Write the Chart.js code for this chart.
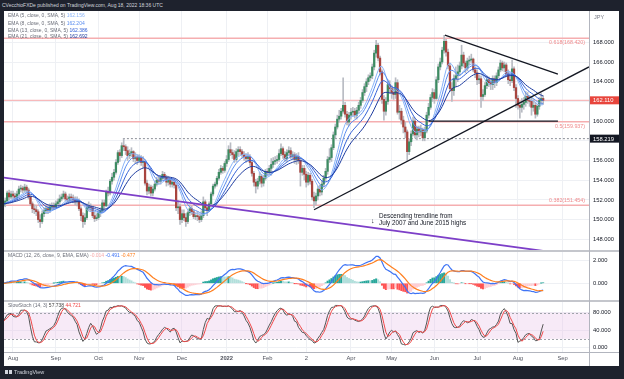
<!DOCTYPE html>
<html><head><meta charset="utf-8">
<script src="https://cdn.jsdelivr.net/npm/chart.js@4.4.1/dist/chart.umd.min.js"></script>
<style>
*{box-sizing:border-box}
html,body{margin:0;padding:0}
body{width:624px;height:379px;background:#1e222d;position:relative;overflow:hidden;font-family:"Liberation Sans",Arial,sans-serif}
#panel{position:absolute;left:4px;top:11px;width:615px;height:355px;background:#fff}
canvas{position:absolute;left:4px}
.t{position:absolute;white-space:nowrap;line-height:1}
.leg{left:8px;font-size:5px;color:#6a6d78}
.ln{position:absolute}
</style></head><body>
<div id="panel"></div>
<canvas id="cPrice" width="615" height="239" style="top:11px"></canvas>
<canvas id="cMacd" width="615" height="48" style="top:252px"></canvas>
<canvas id="cStoch" width="615" height="62" style="top:302px"></canvas>
<div class="ln" style="left:4px;top:250px;width:615px;height:2px;background:#c4c6cc"></div>
<div class="ln" style="left:4px;top:300px;width:615px;height:2px;background:#c4c6cc"></div>
<div class="ln" style="left:589px;top:11px;width:1px;height:355px;background:#b2b5be"></div>
<div class="ln" style="left:4px;top:352px;width:615px;height:1px;background:#b2b5be"></div>

<div class="t" style="left:2px;top:2.5px;font-size:5px;color:#d1d4dc">CVecchioFXDe published on TradingView.com, Aug 18, 2022 18:36 UTC</div>
<div class="t leg" style="top:13.2px">EMA (5, close, 0, SMA, 5) <span style="color:#8ab4f8">162.156</span></div>
<div class="t leg" style="top:20.5px">EMA (8, close, 0, SMA, 5) <span style="color:#5b8def">162.204</span></div>
<div class="t leg" style="top:27.5px">EMA (13, close, 0, SMA, 5) <span style="color:#3562d6">162.386</span></div>
<div class="t leg" style="top:34.2px">EMA (21, close, 0, SMA, 5) <span style="color:#1c3a9e">162.692</span></div>
<div class="t" style="left:594px;top:14.5px;font-size:5.5px;color:#787b86">JPY</div>
<div class="t leg" style="top:253.2px">MACD (12, 26, close, 9, EMA, EMA) <span style="color:#f7a9a9">-0.014</span> <span style="color:#3f74f5">-0.491</span> <span style="color:#ff7f1f">-0.477</span></div>
<div class="t leg" style="top:303.2px">SlowStoch (14, 3) <span style="color:#444">57.738</span> <span style="color:#f04848">44.721</span></div>
<div class="t" style="left:371px;top:216.5px;font-size:7px;color:#131722">↓</div>
<div class="t" style="left:379px;top:211.8px;font-size:6.3px;line-height:7px;color:#131722">Descending trendline from<br>July 2007 and June 2015 highs</div>
<div class="ln" style="left:5px;top:370px;width:3px;height:4px;background:#d1d4dc"></div>
<div class="ln" style="left:9px;top:370px;width:3px;height:4px;background:#d1d4dc"></div>
<div class="t" style="left:14px;top:369.5px;font-size:5.5px;color:#d1d4dc">TradingView</div>

<script>
// ---------- DATA (daily GBP/JPY candles, Jul 26 2021 .. Aug 18 2022) ----------
const FIRST_OPEN = 151.4;
const closes = [
151.6,151.9,152.7,152.3,152.6, 152.4,152.2,152.6,153.1,153.2, 153.0,153.3,153.0,152.3,151.6,
151.1,151.0,150.8,150.0,149.8, 150.6,150.9,151.1,150.9,151.3, 151.4,151.3,151.6,151.8,152.1,
152.3,152.6,152.1,152.0,152.3, 152.2,152.0,151.8,151.9,151.1, 150.4,149.8,150.2,151.2,151.3,
151.2,150.4,150.1,150.2,150.7, 150.9,151.7,151.4,152.8,152.7, 153.9,154.3,154.8,155.8,156.8,
156.5,157.5,157.4,157.0,156.5, 156.7,156.9,156.2,156.3,156.0, 156.3,155.8,155.9,153.7,152.9,
153.3,152.7,153.1,153.6,154.0, 153.9,154.2,154.6,154.3,153.8, 154.0,153.6,153.8,153.5,151.2,
151.3,150.0,150.6,150.2,149.8, 150.7,151.1,150.8,150.3,150.4, 150.3,150.0,150.4,151.8,151.2,
150.9,151.6,152.6,153.4,153.6, 154.2,154.8,155.2,155.0,155.7, 156.1,157.1,156.8,156.6,156.1,
156.9,157.1,156.9,156.6,156.4, 156.2,156.4,155.8,154.7,153.8, 153.4,153.9,154.4,153.7,154.2,
154.9,154.8,155.2,155.6,155.9, 156.0,156.1,156.7,157.2,156.6, 156.2,156.8,157.0,156.4,156.6,
156.1,156.4,156.0,154.8,155.2, 154.6,153.8,154.5,153.9,152.3, 151.9,152.4,153.1,152.8,153.6,
154.2,154.9,156.1,156.3,157.3, 158.6,159.4,160.2,160.5,161.0, 161.6,160.7,159.9,160.6,160.9,
161.0,160.6,161.1,161.6,162.1, 162.9,163.5,164.0,164.4,164.6, 165.5,166.9,167.7,166.4,165.0,
162.2,161.0,162.0,163.7,163.3, 162.9,162.7,163.9,160.9,161.0, 160.1,159.4,158.9,156.9,157.9,
158.7,160.0,158.6,159.2,158.9, 159.1,158.3,159.0,160.6,161.4, 162.4,162.9,162.3,164.2,165.5,
166.0,167.2,168.1,167.0,165.6, 163.3,163.1,164.3,164.6,165.0, 165.6,166.7,165.9,165.4,166.1,
166.2,166.3,165.2,164.9,164.2, 164.3,162.5,162.7,163.6,164.2, 163.9,163.7,164.3,163.9,164.6,
165.2,165.9,165.4,165.7,164.8, 164.2,164.1,165.3,163.4,162.3, 161.6,161.4,161.7,161.9,162.5,
162.1,162.0,161.4,161.6,160.7, 161.5,162.1,162.3,162.11];
const highs = [
152.0,152.2,152.9,153.0,152.9, 152.9,152.7,152.9,153.4,153.5, 153.4,153.6,153.5,153.2,152.5,
151.8,151.5,151.4,151.0,150.5, 150.9,151.2,151.4,151.4,151.6, 151.7,151.7,151.9,152.1,152.5,
152.6,152.9,152.8,152.4,152.6, 152.6,152.5,152.3,152.3,152.1, 151.3,150.7,150.6,151.6,151.8,
151.6,151.4,150.8,150.6,151.0, 151.2,152.0,152.0,153.0,153.3, 154.1,154.7,155.1,156.1,157.0,
157.1,157.8,158.2,157.6,157.4, 157.1,157.3,157.0,156.8,156.6, 156.6,156.5,156.4,156.1,154.0,
153.6,153.5,153.4,153.9,154.3, 154.3,154.5,154.9,154.8,154.5, 154.4,154.2,154.1,154.0,153.6,
151.9,151.6,151.0,151.0,150.6, 150.9,151.5,151.4,151.0,150.7, 150.8,150.6,150.9,152.3,152.0,
151.4,151.8,152.8,153.6,153.8, 154.4,155.1,155.5,155.4,155.9, 156.5,157.5,157.8,157.1,157.0,
157.2,157.4,157.4,157.1,156.9, 156.7,156.8,156.6,156.0,154.9, 154.1,154.2,154.8,154.6,154.5,
155.1,155.2,155.5,156.2,156.3, 156.4,156.5,157.1,157.7,157.4, 156.9,157.1,157.4,157.3,156.9,
156.8,156.7,156.8,156.3,155.5, 155.5,154.9,154.8,154.7,154.1, 152.8,152.7,153.4,153.5,153.9,
154.5,155.2,156.4,157.2,157.6, 158.9,159.7,160.6,161.1,161.3, 164.4,161.9,161.0,160.9,161.3,
161.4,161.3,161.4,161.9,162.4, 163.2,163.8,164.3,164.7,164.9, 165.8,167.2,168.2,167.9,166.6,
165.2,162.6,162.4,164.2,164.1, 163.6,163.3,164.4,164.2,161.6, 161.3,160.5,159.9,159.1,158.2,
159.0,160.4,160.3,159.5,159.5, 159.6,159.3,159.4,160.9,161.8, 162.7,163.3,163.2,164.5,165.8,
166.4,167.5,168.7,168.3,167.3, 165.9,163.9,164.7,165.5,165.7, 166.0,167.7,167.0,166.1,166.4,
166.6,166.8,166.4,165.5,165.2, 164.7,164.6,163.2,163.9,164.6, 164.5,164.3,164.6,164.6,164.9,
165.5,166.2,166.1,166.0,165.9, 165.2,164.7,166.2,165.5,163.7, 162.6,162.0,162.3,162.4,163.0,
162.9,162.6,162.5,162.2,161.9, 161.7,162.4,162.8,162.6];
const lows = [
151.0,151.3,151.7,152.0,152.1, 152.1,151.9,152.0,152.4,152.8, 152.7,152.8,152.7,152.1,151.4,
150.7,150.6,150.4,149.7,149.2, 149.6,150.3,150.6,150.6,150.7, 151.0,151.0,151.1,151.4,151.5,
151.9,152.1,151.9,151.7,151.8, 151.9,151.7,151.5,151.4,150.9, 149.9,149.2,149.5,150.0,150.9,
150.8,150.2,149.8,149.9,150.0, 150.3,150.7,151.0,151.3,152.4, 152.5,153.6,154.0,154.6,155.6,
155.9,156.3,157.0,156.6,156.0, 156.2,156.4,155.9,155.7,155.6, 155.8,155.5,155.3,153.5,152.5,
152.6,152.4,152.4,152.9,153.4, 153.6,153.6,154.0,154.0,153.4, 153.5,153.3,153.3,153.2,150.9,
150.6,149.5,149.7,149.9,149.3, 149.6,150.4,150.5,150.1,150.0, 149.9,149.7,149.8,150.2,150.9,
150.4,150.8,151.5,152.4,153.2, 153.4,154.0,154.6,154.7,154.8, 155.4,155.9,156.5,156.2,155.8,
155.9,156.5,156.6,156.3,156.0, 155.8,155.9,155.5,154.4,153.4, 152.7,153.1,153.6,153.3,153.4,
154.0,154.5,154.6,154.5,155.3, 155.6,155.7,155.9,156.5,156.2, 155.9,155.9,156.5,156.2,156.1,
155.7,155.6,155.7,153.4,154.5, 154.0,153.3,153.5,153.6,152.0, 151.2,151.5,152.0,152.4,152.5,
153.3,153.9,154.6,155.8,155.9, 157.1,158.3,159.2,159.9,160.2, 160.8,160.4,159.6,159.5,160.2,
160.5,160.3,160.2,160.8,161.3, 161.9,162.6,163.0,163.7,164.1, 164.3,165.2,166.5,166.1,164.7,
161.8,160.1,160.6,161.7,162.8, 162.3,162.2,162.3,160.7,160.2, 159.7,158.8,158.3,156.0,156.6,
157.5,158.5,158.3,158.1,158.4, 158.5,158.0,158.0,158.8,160.3, 161.2,162.0,161.8,162.2,163.9,
165.2,165.8,166.9,166.6,165.3, 163.0,162.0,162.6,163.5,164.0, 164.6,165.3,165.5,164.9,165.1,
165.7,165.9,165.0,164.4,163.7, 163.8,161.4,162.1,162.5,163.3, 163.5,163.2,163.2,163.4,163.6,
164.4,165.0,165.1,165.0,164.5, 163.8,163.6,163.9,163.1,161.4, 161.2,160.3,160.9,161.2,161.5,
161.8,161.5,160.6,161.0,160.3, 160.5,161.2,161.7,161.7];

// x axis: trading-day index; month labels at first trading day of each month
const monthIdx = [5,27,49,70,92,115,136,156,179,200,222,244,265,288];
const monthLbl = ['Aug','Sep','Oct','Nov','Dec','2022','Feb','2','Apr','May','Jun','Jul','Aug','Sep'];
const priceTicks = [148,150,152,154,156,158,160,162,164,166,168];
const macdTicks = [0,2];
const stochTicks = [0,40,80];

// horizontal levels & drawn lines
const fibLevels = [168.420, 159.937, 151.454];
const fibNames = ['0.618','0.5','0.382'];
const lastPrice = 162.110;
const octHigh = 158.219, octHighIdx = 61.6;
const trendUp = [[160,151.0],[301.6,165.5]];
const trendDown = [[227.4,168.74],[285.6,164.78]];
const supportLine = [[219,160.0],[285.6,160.0]];
const purpleLine = [[0,154.27],[290,146.50]];
const emaLens = [5,8,13,21];
const stochBands = [80,20];

// ---------- derived series (indicators) ----------
const opens = closes.map((c,i)=> i===0 ? FIRST_OPEN : closes[i-1]);
function ema(src,n){const a=2/(n+1);let e=src[0];return src.map((v,i)=>(e = i ? a*v+(1-a)*e : v));}
function sma(src,n){return src.map((v,i)=>{let s=0,k=0;for(let j=Math.max(0,i-n+1);j<=i;j++){s+=src[j];k++;}return s/k;});}
const emaSeries = emaLens.map(n=>sma(ema(closes,n),5));
const e12 = ema(closes,12), e26 = ema(closes,26);
const macd = e12.map((v,i)=>v-e26[i]);
const signal = ema(macd,9);
const hist = macd.map((v,i)=>v-signal[i]);
const rawK = closes.map((c,i)=>{let hh=-Infinity,ll=Infinity;for(let j=Math.max(0,i-13);j<=i;j++){hh=Math.max(hh,highs[j]);ll=Math.min(ll,lows[j]);}return hh>ll?100*(c-ll)/(hh-ll):50;});
const stochK = sma(rawK,3);
const stochD = sma(stochK,3);

// ---------- styles ----------
const X_MIN = 0.366, X_MAX = 301.6;
const FONT = 'Liberation Sans';
const GRID = '#eef0f4';
const emaCols = ['#8ab4f8','#5b8def','#3562d6','#1c3a9e'];
const UP = '#3d8b62', DOWN = '#a8453f', WICK = '#b8bbc3';
const PINK = '#f5aeb0';

const pts = a => a.map((v,i)=>({x:i,y:v}));
const seg = a => a.map(p=>({x:p[0],y:p[1]}));
const full = v => [{x:X_MIN,y:v},{x:X_MAX,y:v}];

function xAxis(showLabels){
  return {type:'linear', min:X_MIN, max:X_MAX, offset:false,
    afterBuildTicks:s=>{s.ticks = monthIdx.map(v=>({value:v}));},
    afterFit:s=>{s.height = showLabels?12:0; s.paddingLeft=0; s.paddingRight=0;},
    grid:{color:GRID, drawTicks:false, offset:false},
    border:{display:false},
    ticks:{display:showLabels, autoSkip:false, maxRotation:0, minRotation:0, padding:3, color:'#50535e',
      font:c=>({family:FONT, size:5.8, weight:(c.tick && c.tick.value===115)?'bold':'normal'}),
      callback:v=>{const k=monthIdx.indexOf(v);return k<0?'':monthLbl[k];}}};
}
function yAxis(min,max,ticks,hide){
  return {position:'right', min, max,
    afterBuildTicks:s=>{s.ticks = ticks.map(v=>({value:v}));},
    afterFit:s=>{s.width=30; s.paddingTop=0; s.paddingBottom=0;},
    grid:{color:GRID, drawTicks:false},
    border:{display:false},
    ticks:{padding:4, color:'#131722', font:{family:FONT,size:5.8},
      callback:v=> (hide && hide.includes(v)) ? '' : Number(v).toFixed(3)}};
}
const base = {responsive:false, animation:false, events:[], layout:{padding:0},
  plugins:{legend:{display:false}, tooltip:{enabled:false}}};

// ---------- price pane ----------
const idx = closes.map((_,i)=>i);
const priceOverlay = {id:'priceOverlay', afterDraw(chart){
  const {ctx, chartArea, scales:{y}} = chart;
  ctx.save();
  ctx.font = '5.3px "'+FONT+'"'; ctx.textAlign='right'; ctx.textBaseline='middle'; ctx.fillStyle='#f08a8c';
  fibLevels.forEach((lv,k)=>{const py=y.getPixelForValue(lv); ctx.fillText(fibNames[k]+'('+lv.toFixed(3)+')', chartArea.right-4, py + (k===2?-5.2:4.4));});
  const box=(v,col)=>{const py=y.getPixelForValue(v); ctx.fillStyle=col; ctx.fillRect(chartArea.right+1, py-4, 30, 8);
    ctx.fillStyle='#fff'; ctx.textAlign='left'; ctx.font='5.8px "'+FONT+'"'; ctx.fillText(v.toFixed(3), chartArea.right+4, py+0.3);};
  box(lastPrice,'#e8453c'); box(octHigh,'#131722');
  ctx.restore();
}};
new Chart(document.getElementById('cPrice'), {type:'line', options:{...base,
    scales:{x:xAxis(false), y:yAxis(146.914,171.178,priceTicks,[158,162])}},
  plugins:[priceOverlay],
  data:{datasets:[
    ...fibLevels.map(v=>({type:'line', data:full(v), borderColor:PINK, borderWidth:1.5, pointRadius:0, order:40})),
    {type:'line', data:full(lastPrice), borderColor:'#f7b9bb', borderWidth:1.2, pointRadius:0, order:39},
    {type:'line', data:[{x:octHighIdx,y:octHigh},{x:X_MAX,y:octHigh}], borderColor:'#8a8d96', borderWidth:1, borderDash:[2,2], pointRadius:0, order:38},
    {type:'bar', data:idx.map(i=>({x:i,y:[lows[i],highs[i]]})), backgroundColor:WICK, barThickness:1, grouped:false, order:30},
    {type:'bar', data:idx.map(i=>({x:i,y:[opens[i],closes[i]]})), backgroundColor:idx.map(i=>closes[i]>=opens[i]?UP:DOWN), barThickness:1.6, minBarLength:1, grouped:false, order:29},
    ...emaSeries.map((s,k)=>({type:'line', data:pts(s), borderColor:emaCols[k], borderWidth:1, pointRadius:0, tension:0, order:20-k})),
    {type:'line', data:seg(trendUp), borderColor:'#131722', borderWidth:1.3, pointRadius:0, order:3},
    {type:'line', data:seg(trendDown), borderColor:'#131722', borderWidth:1.3, pointRadius:0, order:3},
    {type:'line', data:seg(supportLine), borderColor:'#131722', borderWidth:1.3, pointRadius:0, order:3},
    {type:'line', data:seg(purpleLine), borderColor:'#7d3fc8', borderWidth:1.8, pointRadius:0, order:2}
  ]}});

// ---------- MACD pane ----------
const histCol = hist.map((h,i)=>{const p=i?hist[i-1]:h; if(h>=0) return h>=p?'#26a69a':'#b2dfdb'; return h<p?'#ff5252':'#ffcdd2';});
new Chart(document.getElementById('cMacd'), {type:'line', options:{...base,
    scales:{x:xAxis(false), y:yAxis(-1.478,2.770,macdTicks)}},
  data:{datasets:[
    {type:'bar', data:idx.map(i=>({x:i,y:hist[i]})), backgroundColor:histCol, barThickness:1.4, grouped:false, order:10},
    {type:'line', data:pts(macd), borderColor:'#3f74f5', borderWidth:1.2, pointRadius:0, order:2},
    {type:'line', data:pts(signal), borderColor:'#ff7f1f', borderWidth:1.2, pointRadius:0, order:1}
  ]}});

// ---------- Stoch pane ----------
const bandPlugin = {id:'band', beforeDatasetsDraw(chart){
  const {ctx, chartArea, scales:{y}} = chart;
  const y1=y.getPixelForValue(stochBands[0]), y2=y.getPixelForValue(stochBands[1]);
  ctx.save();
  ctx.fillStyle='rgba(233,196,233,0.35)'; ctx.fillRect(chartArea.left, y1, chartArea.right-chartArea.left, y2-y1);
  ctx.strokeStyle='#a0a3ab'; ctx.lineWidth=1; ctx.setLineDash([2,2]);
  [y1,y2].forEach(py=>{ctx.beginPath(); ctx.moveTo(chartArea.left, Math.round(py)+0.5); ctx.lineTo(chartArea.right, Math.round(py)+0.5); ctx.stroke();});
  ctx.restore();
}};
new Chart(document.getElementById('cStoch'), {type:'line', options:{...base,
    scales:{x:xAxis(true), y:yAxis(-9.8,103.9,stochTicks)}},
  plugins:[bandPlugin],
  data:{datasets:[
    {type:'line', data:pts(stochK), borderColor:'#555555', borderWidth:1, pointRadius:0, order:2},
    {type:'line', data:pts(stochD), borderColor:'#f04848', borderWidth:1, pointRadius:0, order:1}
  ]}});
</script>
</body></html>
